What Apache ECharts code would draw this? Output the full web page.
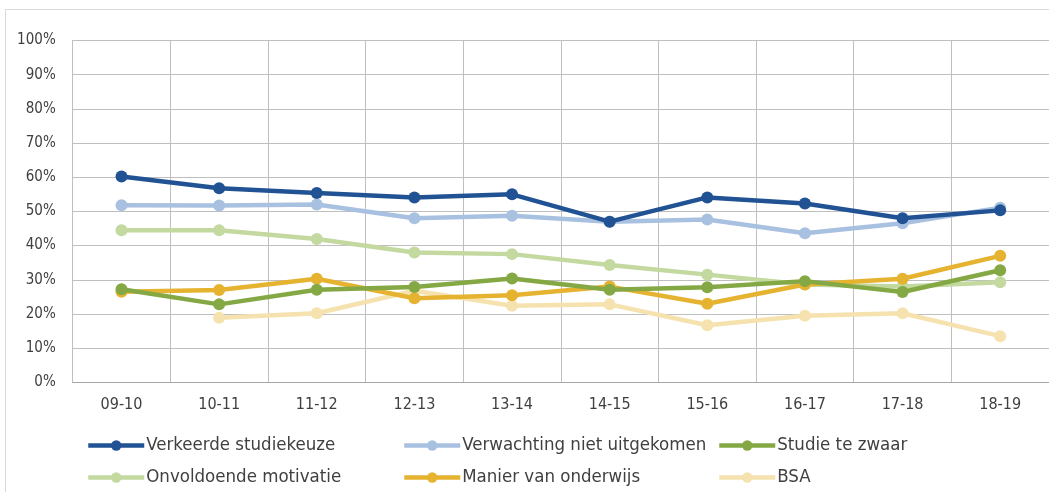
<!DOCTYPE html>
<html>
<head>
<meta charset="utf-8">
<style>
  html, body { margin: 0; padding: 0; background: #ffffff; }
  #chart { width: 1049px; height: 492px; }
</style>
<script src="https://cdn.jsdelivr.net/npm/echarts@6/dist/echarts.min.js"></script>
</head>
<body>
<div id="chart"></div>
<script>
// Academic years on the x axis
const years = ['09-10', '10-11', '11-12', '12-13', '13-14', '14-15', '15-16', '16-17', '17-18', '18-19'];

// Share of respondents naming each reason (%)
const verkeerdeStudiekeuze   = [60.2, 56.8, 55.4, 54.1, 55.0, 47.0, 54.1, 52.3, 48.0, 50.3];
const verwachtingNiet        = [51.8, 51.7, 52.0, 48.0, 48.7, 47.0, 47.6, 43.6, 46.5, 51.1];
const studieTeZwaar          = [27.2, 22.8, 27.1, 27.9, 30.4, 27.1, 27.8, 29.6, 26.4, 32.8];
const onvoldoendeMotivatie   = [44.5, 44.5, 41.9, 38.0, 37.5, 34.3, 31.5, 28.6, 28.0, 29.3];
const manierVanOnderwijs     = [26.5, 27.0, 30.3, 24.6, 25.5, 28.0, 23.0, 28.6, 30.3, 37.0];
const bsa                    = [null, 18.9, 20.2, 26.8, 22.4, 22.8, 16.7, 19.5, 20.2, 13.5];

const yTicks = { min: 0, max: 100, interval: 10 };

const seriesDefs = [
  { name: 'Verkeerde studiekeuze',       data: verkeerdeStudiekeuze, color: '#215394' },
  { name: 'Verwachting niet uitgekomen', data: verwachtingNiet,      color: '#A8C1E1' },
  { name: 'Studie te zwaar',             data: studieTeZwaar,        color: '#84A844' },
  { name: 'Onvoldoende motivatie',       data: onvoldoendeMotivatie, color: '#C3D9A0' },
  { name: 'Manier van onderwijs',        data: manierVanOnderwijs,   color: '#E6B331' },
  { name: 'BSA',                         data: bsa,                  color: '#F5E2AE' }
];

// Legend layout: three columns, two rows
const legendCells = [
  { name: 'Verkeerde studiekeuze',       left: 86,  top: 436 },
  { name: 'Verwachting niet uitgekomen', left: 402, top: 436 },
  { name: 'Studie te zwaar',             left: 717, top: 436 },
  { name: 'Onvoldoende motivatie',       left: 86,  top: 468 },
  { name: 'Manier van onderwijs',        left: 402, top: 468 },
  { name: 'BSA',                         left: 717, top: 468 }
];

// Draw order: lighter lines first, darker lines on top
const drawOrder = [5, 3, 4, 2, 1, 0];

const FONT = 'DejaVu Sans Condensed';
const TEXT = '#404040';

const chart = echarts.init(document.getElementById('chart'), null, { renderer: 'canvas' });

chart.setOption({
  animation: false,
  backgroundColor: '#ffffff',
  graphic: [{
    type: 'rect',
    shape: { x: 5.5, y: 9.5, width: 1200, height: 600 },
    style: { fill: 'none', stroke: '#D9D9D9', lineWidth: 1 },
    silent: true
  }],
  grid: { left: 72.7, right: -2.2, top: 40.5, bottom: 109.7, containLabel: false },
  legend: legendCells.map(function (c) {
    return {
      data: [c.name],
      left: c.left,
      top: c.top,
      padding: 0,
      itemWidth: 56,
      itemHeight: 13,
      selectedMode: false,
      lineStyle: { width: 4.5 },
      textStyle: { fontFamily: FONT, fontSize: 18.5, lineHeight: 18, color: TEXT, padding: [0, 0, 0, -3] }
    };
  }),
  xAxis: {
    type: 'category',
    data: years,
    boundaryGap: true,
    axisLine: { show: true, lineStyle: { color: '#A6A6A6', width: 1 } },
    axisTick: { show: false },
    splitLine: { show: true, lineStyle: { color: '#BFBFBF', width: 1 } },
    axisLabel: { margin: 15, fontFamily: FONT, fontSize: 16, color: TEXT, interval: 0 }
  },
  yAxis: {
    type: 'value',
    min: yTicks.min,
    max: yTicks.max,
    interval: yTicks.interval,
    axisLine: { show: true, lineStyle: { color: '#BFBFBF', width: 1 } },
    axisTick: { show: false },
    splitLine: { show: true, lineStyle: { color: '#BFBFBF', width: 1 } },
    axisLabel: { margin: 17, fontFamily: FONT, fontSize: 15, color: TEXT, formatter: '{value}%' }
  },
  series: drawOrder.map(function (i) {
    const d = seriesDefs[i];
    return {
      name: d.name,
      type: 'line',
      data: d.data,
      connectNulls: false,
      symbol: 'circle',
      symbolSize: 12,
      showAllSymbol: true,
      lineStyle: { color: d.color, width: 4.5 },
      itemStyle: { color: d.color },
      z: 2 + drawOrder.indexOf(i)
    };
  })
});
</script>
</body>
</html>
